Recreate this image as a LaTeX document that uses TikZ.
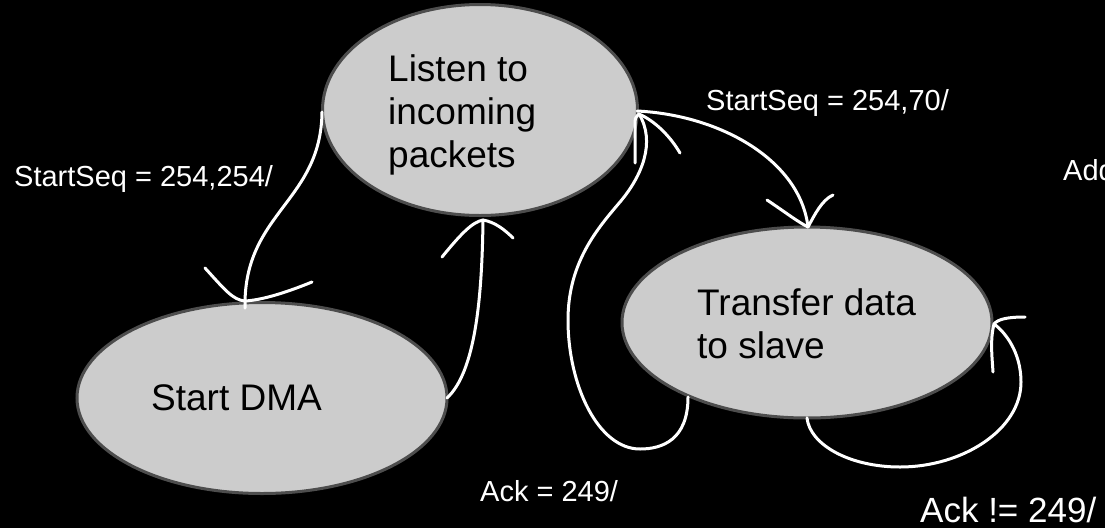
\documentclass[tikz,border=0pt]{standalone}
\usepackage{fontspec}
\setmainfont{Liberation Sans}
\usetikzlibrary{shapes.geometric}
\definecolor{statefill}{HTML}{CCCCCC}
\definecolor{stateedge}{HTML}{4D4D4D}
\tikzset{
  state/.style={ellipse, fill=statefill, draw=stateedge, line width=3pt, inner sep=0pt},
  statetext/.style={anchor=base west, inner sep=0pt, text=black, font=\fontsize{37}{43}\selectfont},
  translabel/.style={anchor=base west, inner sep=0pt, text=white, font=\fontsize{29}{34}\selectfont},
  wire/.style={draw=white, line width=3pt, line cap=round},
  tipwire/.style={draw=white, line width=3pt, line cap=butt}
}
\begin{document}
\begin{tikzpicture}[x=1pt,y=-1pt]
  \useasboundingbox (0,0) rectangle (1105,528);
  \fill[black] (0,0) rectangle (1105,528);

  % states
  \node[state, minimum width=315pt, minimum height=211pt] (listen) at (480,110) {};
  \node[state, minimum width=370pt, minimum height=191pt] (dma) at (262,398) {};
  \node[state, minimum width=370pt, minimum height=191pt] (xfer) at (807,322.5) {};

  \node[statetext] (listenA) at (388,81) {Listen to};
  \node[statetext] (listenB) at (388,124) {incoming};
  \node[statetext] (listenC) at (388,167) {packets};
  \node[statetext] (dmaA) at (151,410) {Start DMA};
  \node[statetext] (xferA) at (697,315) {Transfer data};
  \node[statetext] (xferB) at (697,358) {to slave};

  % end points of the transitions on the state borders
  \coordinate (listenW) at (322,112);
  \coordinate (listenS) at (483,220);
  \coordinate (listenE) at (637,111);
  \coordinate (listenE2) at (639,114);
  \coordinate (dmaN) at (245,301);
  \coordinate (dmaE) at (447,398);
  \coordinate (xferN) at (808,227);
  \coordinate (xferSW) at (688,397);
  \coordinate (xferS) at (807,418);
  \coordinate (xferE) at (994,324);

  % listen -> start DMA
  \path[wire] (listenW) .. controls (321,200) and (247,212) .. (dmaN) -- (245,308);
  \path[wire] (205,268) .. controls (225,290) and (233,300) .. (dmaN);
  \path[wire] (dmaN) .. controls (262,300) and (285,293) .. (312,282);

  % start DMA -> listen
  \path[wire] (dmaE) .. controls (475,372) and (482,300) .. (listenS);
  \path[wire] (442,257) .. controls (460,235) and (472,222) .. (listenS);
  \path[wire] (listenS) .. controls (495,222) and (505,230) .. (513,238);

  % listen -> transfer
  \path[wire] (listenE) .. controls (720,115) and (800,160) .. (xferN);
  \path[wire] (767,200) .. controls (785,212) and (798,222) .. (xferN);
  \path[wire] (xferN) .. controls (815,214) and (822,200) .. (833,195);

  % transfer -> listen (outer loop)
  \path[wire] (xferSW) .. controls (688,440) and (662,449) .. (640,449)
     .. controls (598,449) and (568,385) .. (568,320)
     .. controls (568,262) and (598,228) .. (620,202)
     .. controls (642,176) and (656,142) .. (listenE2);
  \path[wire] (635,163) -- (635,126) .. controls (635,118) .. (listenE2);
  \path[wire] (listenE2) .. controls (655,121) and (670,136) .. (680,153);

  % transfer self loop
  \path[wire] (xferS) .. controls (810,445) and (850,467) .. (900,467)
     .. controls (962,467) and (1021,430) .. (1021,382)
     .. controls (1021,352) and (1005,332) .. (xferE);
  \path[wire] (1025,317) .. controls (1008,317) and (998,319) .. (xferE);
  \path[wire] (xferE) .. controls (990,340) and (992,356) .. (993,372);

  % transition labels
  \node[translabel] (lblA) at (14,186) {StartSeq = 254,254/};
  \node[translabel] (lblB) at (706,110) {StartSeq = 254,70/};
  \node[translabel] (lblC) at (480,501) {Ack = 249/};
  \node[translabel, font=\fontsize{35}{40}\selectfont] (lblD) at (920,522) {Ack != 249/};
  \node[translabel] (lblE) at (1063,180) {Add};
\end{tikzpicture}
\end{document}
